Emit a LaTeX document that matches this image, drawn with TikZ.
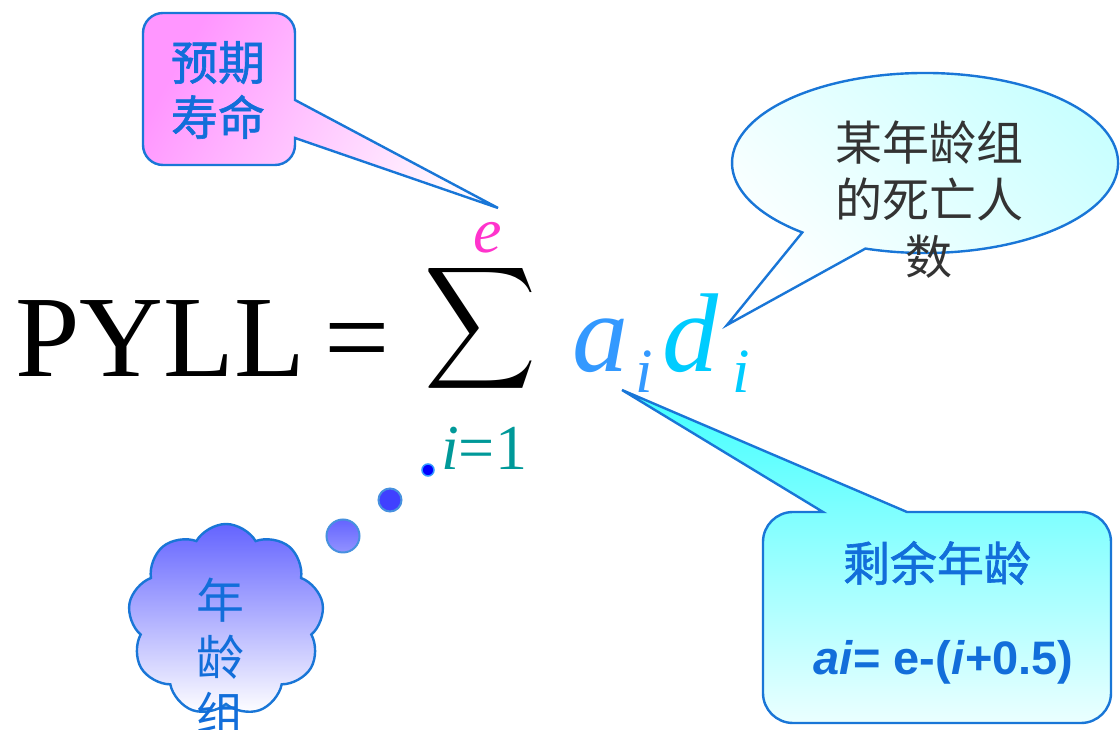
\documentclass[tikz,border=0pt]{standalone}
\usepackage{fontspec}
\usepackage{graphicx}
\setmainfont{Liberation Serif}
\newfontfamily\cjk{Noto Sans CJK SC}
\newfontfamily\cjkb[FakeBold=1.3]{Noto Sans CJK SC}
\newfontfamily\arial{Liberation Sans}
\usetikzlibrary{shapes.symbols}
\definecolor{bord}{RGB}{25,118,215}
\definecolor{txtblue}{RGB}{18,110,218}
\definecolor{grayt}{RGB}{51,51,51}
\definecolor{pinkA}{RGB}{255,150,255}
\definecolor{pinkB}{RGB}{255,248,255}
\definecolor{cyanA}{RGB}{200,255,255}
\definecolor{cyanT}{RGB}{64,255,255}
\definecolor{cyanB}{RGB}{235,255,255}
\definecolor{cloudA}{RGB}{100,100,255}
\definecolor{bubB}{RGB}{64,64,255}
\definecolor{ecol}{RGB}{255,51,204}
\definecolor{limcol}{RGB}{0,153,153}
\definecolor{acol}{RGB}{51,153,255}
\definecolor{dcol}{RGB}{0,204,255}
\begin{document}
\begin{tikzpicture}[x=1pt,y=1pt,
  callout/.style={draw=bord,line width=2.4pt,line join=miter},
  cjkbox/.style={inner sep=0pt,align=center,text=txtblue},
  formula/.style={anchor=base west,inner sep=0pt}]
\useasboundingbox (0,0) rectangle (1120,730);
\fill[white] (0,0) rectangle (1120,730);

% pink callout (expected life)
\path[callout,left color=pinkA,right color=pinkB,shading angle=60]
  (163,717) -- (275,717) arc[start angle=90,end angle=0,radius=20]
  -- (295,630) -- (498,522) -- (295,592) -- (295,585)
  arc[start angle=0,end angle=-90,radius=20] -- (163,565)
  arc[start angle=-90,end angle=-180,radius=20] -- (143,697)
  arc[start angle=180,end angle=90,radius=20] -- cycle;
\node[cjkbox,font=\cjkb\fontsize{47}{55}\selectfont] (life) at (218,640) {预期\\寿命};

% ellipse callout (deaths)
\path[callout,left color=white,right color=cyanA,shading angle=135]
  (865.4,481.4) arc[start angle=252,end angle=590.5,x radius=193,y radius=90]
  -- (727,405) -- cycle;
\node[inner sep=0pt,align=center,text=grayt,font=\cjk\fontsize{47}{57}\selectfont] (deaths) at (929,530) {某年龄组\\的死亡人\\数};

% bottom-right callout (remaining years)
\path[callout,top color=cyanT,bottom color=cyanB]
  (793,218) -- (823,218) -- (622,340) -- (907,218) -- (1081,218)
  arc[start angle=90,end angle=0,radius=30] -- (1111,37)
  arc[start angle=0,end angle=-90,radius=30] -- (793,7)
  arc[start angle=-90,end angle=-180,radius=30] -- (763,188)
  arc[start angle=180,end angle=90,radius=30] -- cycle;
\node[cjkbox,font=\cjkb\fontsize{47}{55}\selectfont] (remain) at (937,167) {剩余年龄};
\node[formula,text=txtblue,font=\arial\bfseries\fontsize{47}{47}\selectfont] (aform) at (813,55) {\textit{ai}= e-(\textit{i}+0.5)};

% thought cloud (age group)
\node[cloud,cloud puffs=9,cloud puff arc=120,aspect=1,minimum width=196pt,minimum height=192pt,
      draw=bord,line width=2.4pt,top color=cloudA,bottom color=white,inner sep=0pt] (cloud) at (226,110) {};
\node[cjkbox,font=\cjk\fontsize{48}{57}\selectfont] (agegrp) at (220,73) {年\\龄\\组};
\node[circle,draw=bord!80,line width=2pt,top color=cloudA,bottom color=cloudA!70!white,minimum size=33pt,inner sep=0pt] (b1) at (343,194) {};
\node[circle,draw=bord!80,line width=2pt,fill=bubB,minimum size=23pt,inner sep=0pt] (b2) at (390,230) {};
\node[circle,draw=acol,line width=1.5pt,fill=blue,minimum size=12pt,inner sep=0pt] (b3) at (428,260) {};

% formula
\node[formula,font=\fontsize{116}{116}\selectfont] (pyll) at (15,353) {PYLL};
\node[formula,font=\fontsize{116}{116}\selectfont] (eq) at (324,353) {=};
\node[inner sep=0pt] (sig) at (481,401.5) {\resizebox*{112pt}{137pt}{$\displaystyle\sum$}};
\node[formula,text=ecol,font=\itshape\fontsize{64}{64}\selectfont] (e) at (473,477) {e};
\node[formula,text=limcol,font=\fontsize{64}{64}\selectfont] (lim) at (441,260) {\textit{i}=1};
\node[formula,text=acol,font=\itshape\fontsize{112}{112}\selectfont] (a) at (572,358) {a};
\node[formula,text=acol,font=\itshape\fontsize{63}{63}\selectfont] (ai) at (635,337) {i};
\node[formula,text=dcol,font=\itshape\fontsize{112}{112}\selectfont] (d) at (662,358) {d};
\node[formula,text=dcol,font=\itshape\fontsize{63}{63}\selectfont] (di) at (732,337) {i};
\end{tikzpicture}
\end{document}
